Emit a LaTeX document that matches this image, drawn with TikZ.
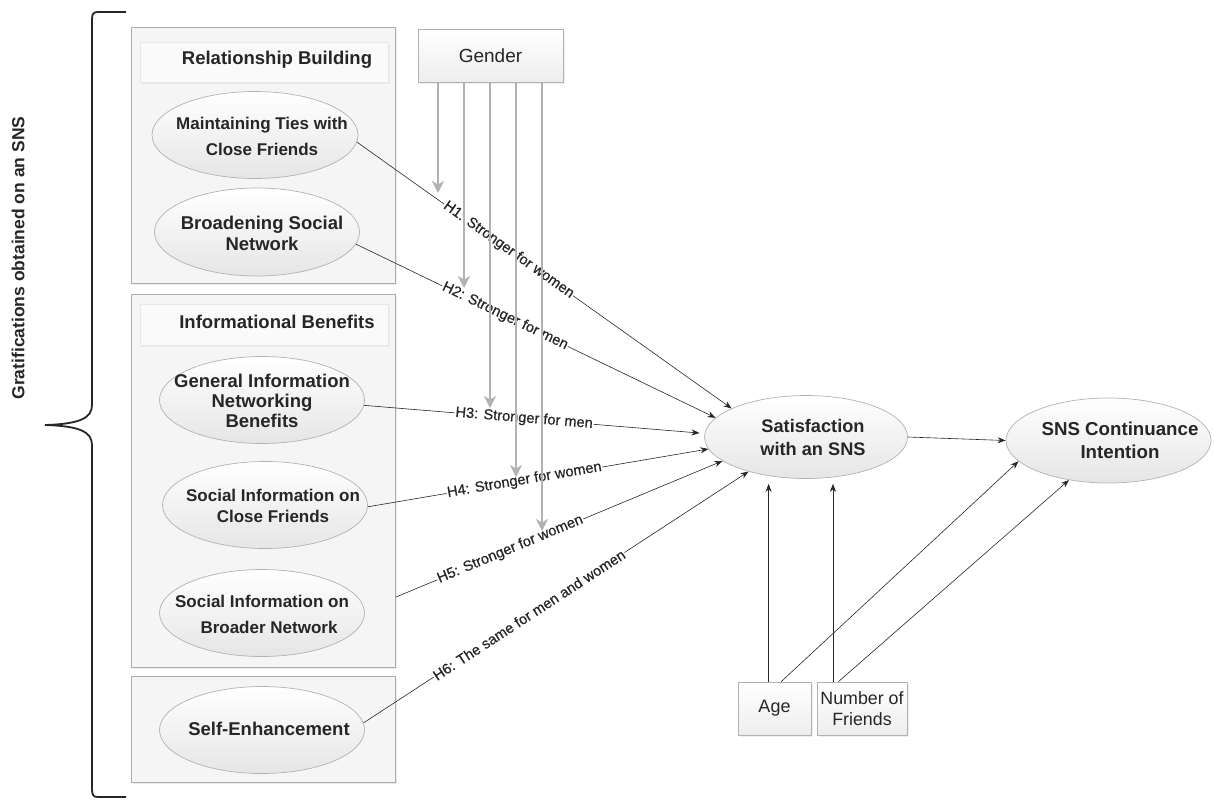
\documentclass[tikz,border=0pt]{standalone}
\usepackage{fontspec}
\setmainfont{Liberation Sans}
\newfontfamily\hfont[FakeBold=0.5]{Liberation Sans}
\usetikzlibrary{shapes.geometric,arrows.meta,shadows,calc}
\begin{document}
\begin{tikzpicture}[x=1pt,y=-1pt,
  grp/.style={draw=gray!65, fill=gray!8, line width=0.8pt, drop shadow={shadow xshift=2pt,shadow yshift=-2pt,fill=gray!30}},
  hdr/.style={draw=gray!18, fill=gray!4, line width=0.6pt, drop shadow={shadow xshift=1.5pt,shadow yshift=-1.5pt,fill=gray!22}},
  hdrt/.style={font=\fontsize{18.5}{21}\selectfont\bfseries, text=black!85},
  ell/.style={ellipse, draw=gray!60, line width=0.7pt, top color=white, bottom color=gray!20, inner sep=0pt},
  etxt/.style={align=center, font=\fontsize{17}{20}\selectfont\bfseries, text=black!85},
  btxt/.style={align=center, font=\fontsize{18.5}{21}\selectfont\bfseries, text=black!85},
  sbox/.style={draw=gray!60, line width=0.7pt, top color=white, bottom color=gray!14, align=center, font=\fontsize{17.8}{21.5}\selectfont, text=black!85, drop shadow={shadow xshift=2pt,shadow yshift=-2pt,fill=gray!25}, inner sep=0pt},
  arr/.style={-{Stealth[length=8pt,width=6pt]}, line width=0.6pt, black!85},
  garr/.style={-{Stealth[length=12pt,width=12pt,inset=3.5pt]}, line width=2.6pt, gray!60},
  lbl/.style={font=\hfont\fontsize{14.6}{16}\selectfont, text=black!85, fill=white, inner sep=0.8pt, sloped}
]
\useasboundingbox (0,0) rectangle (1214,801);

% brace and side label
\draw[line width=1.8pt, black!85] (126,12) -- (98,12) .. controls (93,12) and (92,14) .. (92,20) -- (92,405) .. controls (92,418) and (80,424) .. (45,425) .. controls (80,426) and (92,432) .. (92,445) -- (92,788) .. controls (92,795) and (93,797) .. (98,797) -- (126,797);
\node[rotate=90, font=\fontsize{17.5}{20}\selectfont\bfseries, text=black!85] (grat) at (18,258) {Gratifications obtained on an SNS};

% group boxes
\node[grp, minimum width=264pt, minimum height=256pt] (rb) at (263,155) {};
\node[hdr, minimum width=248pt, minimum height=40pt] (rbh) at (264,62) {};
\node[hdrt] (rbt) at (277,60) {Relationship Building};

\node[grp, minimum width=264pt, minimum height=373pt] (info) at (263,480.5) {};
\node[hdr, minimum width=248pt, minimum height=41pt] (infoh) at (264,324.5) {};
\node[hdrt] (infot) at (277,322) {Informational Benefits};

\node[grp, minimum width=264pt, minimum height=106pt] (self) at (263,729) {};

% ellipses
\node[ell, minimum width=206pt, minimum height=87pt] (mt) at (255,135) {};
\node[etxt] (mtt) at (262,136) {Maintaining Ties with\\[6pt]Close Friends};
\node[ell, minimum width=205pt, minimum height=88pt] (bsn) at (257,232) {};
\node[btxt] (bsnt) at (262,233) {Broadening Social\\Network};
\node[ell, minimum width=205pt, minimum height=87pt] (gi) at (262,400) {};
\node[btxt, font=\fontsize{18.5}{20}\selectfont\bfseries] (git) at (262,401) {General Information\\Networking\hspace*{8pt}\\Benefits};
\node[ell, minimum width=205pt, minimum height=87pt] (sc) at (265,505) {};
\node[etxt] (sct) at (273,506) {Social Information on\\[1pt]Close Friends};
\node[ell, minimum width=205pt, minimum height=87pt] (sb) at (262,613) {};
\node[etxt] (sbt) at (262,614) {Social Information on\\[6pt]\hspace*{14pt}Broader Network};
\node[ell, minimum width=205pt, minimum height=87pt] (se) at (262,730) {};
\node[btxt] (set) at (269,729) {Self-Enhancement};

\node[ell, minimum width=203pt, minimum height=83pt] (sat) at (806,437) {};
\node[btxt, font=\fontsize{18.2}{23}\selectfont\bfseries] (satt) at (813,437) {Satisfaction\\with an SNS};
\node[ell, minimum width=205pt, minimum height=85pt] (sns) at (1108.5,440.5) {};
\node[btxt, font=\fontsize{18.7}{23}\selectfont\bfseries] (snst) at (1120,440) {SNS Continuance\\Intention};

% moderator boxes
\node[sbox, minimum width=145pt, minimum height=53pt, font=\fontsize{19}{21}\selectfont] (gender) at (490.5,55.5) {Gender};
\node[sbox, minimum width=73pt, minimum height=53pt, font=\fontsize{18}{21}\selectfont] (age) at (774.5,708.5) {Age};
\node[sbox, minimum width=90pt, minimum height=53pt] (nof) at (862,708.5) {Number of\\Friends};

% hypothesis paths
\draw[arr] (mt.-4) -- node[lbl, pos=0.405] {H1: Stronger for women} (sat.159);
\draw[arr] (bsn.-7) -- node[lbl, pos=0.415] {H2: Stronger for men} (sat.168);
\draw[arr, shorten >=5pt] (gi.-3) -- node[lbl, pos=0.47] {H3: Stronger for men} (sat.178);
\draw[arr] (sc.-1) -- node[lbl, pos=0.46] {H4: Stronger for women} (sat.-173);
\coordinate (h5s) at (396,597);
\draw[arr] (h5s) -- node[lbl, pos=0.35] {H5: Stronger for women} (sat.-164);
\draw[arr] (se.4) -- node[lbl, pos=0.43] {H6: The same for men and women} (sat.-149);

\draw[arr] (sat.east) -- (sns.west);

% controls
\coordinate (a1) at ($(age.north west)!0.42!(age.north east)$);
\coordinate (a2) at ($(age.north west)!0.59!(age.north east)$);
\coordinate (n1) at ($(nof.north west)!0.18!(nof.north east)$);
\coordinate (n2) at ($(nof.north west)!0.24!(nof.north east)$);
\draw[arr, shorten >=5pt] (a1) -- (a1 |- sat.south);
\draw[arr, shorten >=5pt] (n1) -- (n1 |- sat.south);
\draw[arr] (a2) -- (sns.-167);
\draw[arr] (n2) -- (sns.-135);

% gender moderation arrows
\coordinate (g1) at (438,193);
\coordinate (g2) at (464,288);
\coordinate (g3) at (490,408);
\coordinate (g4) at (516,477);
\coordinate (g5) at (542,531);
\draw[garr] (g1 |- gender.south) -- (g1);
\draw[garr] (g2 |- gender.south) -- (g2);
\draw[garr] (g3 |- gender.south) -- (g3);
\draw[garr] (g4 |- gender.south) -- (g4);
\draw[garr] (g5 |- gender.south) -- (g5);
\end{tikzpicture}
\end{document}
